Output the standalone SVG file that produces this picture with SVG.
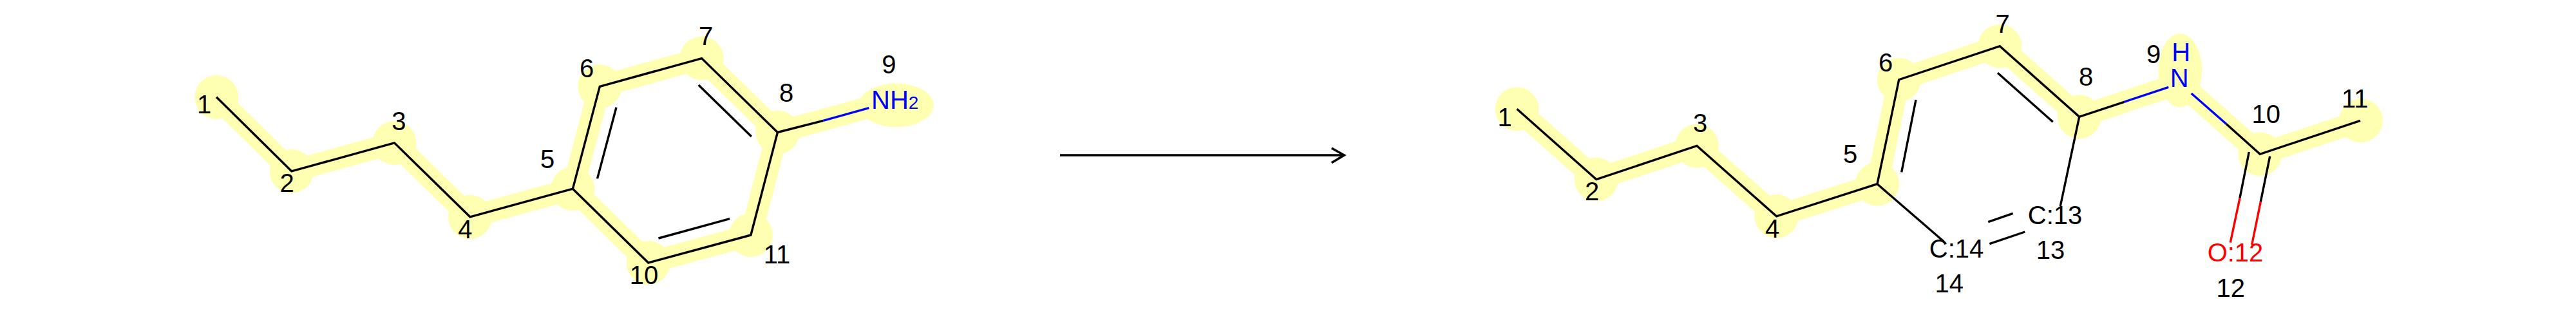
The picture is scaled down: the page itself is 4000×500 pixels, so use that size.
<svg xmlns="http://www.w3.org/2000/svg" width="4000" height="500" viewBox="0 0 4000 500">
<style>
text{font-family:"Liberation Sans",Arial,sans-serif;font-size:40px;fill:#000;text-anchor:middle}
.h{fill:#ffffb2;stroke:none}
.band{fill:none;stroke:#ffffb2;stroke-width:34;stroke-linejoin:round}
.b{fill:none;stroke:#000;stroke-width:3.4;stroke-linejoin:miter;stroke-miterlimit:10}
.n{fill:none;stroke:#0000ff;stroke-width:3.4}
.o{fill:none;stroke:#ff0000;stroke-width:3.4}
.blue{fill:#0000ff}
.red{fill:#ff0000}
</style>
<rect width="4000" height="500" fill="#fff"/>
<g id="highlight-bands">
<path class="band" d="M336.1 150.7L452.8 265.9L612.4 221.9L729.9 336.8L889.4 293.2L931.3 134.3L1089.6 90.6L1207.4 205.5L1165.9 365L1006.7 408L889.4 293.2"/>
<path class="band" d="M1207.4 205.5L1367 161.9"/>
<path class="band" d="M2355.5 169.2L2478.7 278.5L2634.9 226.5L2758.5 335.8L2915 285.7L2948.7 123.7L3105.3 71.7L3228.7 181.3L3385.3 129.3L3509.3 239.3L3666 187.3"/>
</g>
<g id="reactant-atoms">
<g id="r1"><circle class="h" cx="336.1" cy="150.7" r="34"/><text x="317" y="175.8">1</text></g>
<g id="r2"><circle class="h" cx="452.8" cy="265.9" r="34"/><text x="445.6" y="297.7">2</text></g>
<g id="r3"><circle class="h" cx="612.4" cy="221.9" r="34"/><text x="619.3" y="201.7">3</text></g>
<g id="r4"><circle class="h" cx="729.9" cy="336.8" r="34"/><text x="722.3" y="369.5">4</text></g>
<g id="r5"><circle class="h" cx="889.4" cy="293.2" r="34"/><text x="850" y="260.5">5</text></g>
<g id="r6"><circle class="h" cx="931.3" cy="134.3" r="34"/><text x="911" y="120">6</text></g>
<g id="r7"><circle class="h" cx="1089.6" cy="90.6" r="34"/><text x="1096" y="70.4">7</text></g>
<g id="r8"><circle class="h" cx="1207.4" cy="205.5" r="34"/><text x="1221" y="158">8</text></g>
<g id="r9"><ellipse class="h" cx="1391.7" cy="163.3" rx="58" ry="34"/><text x="1380.3" y="114.4">9</text><text class="blue" x="1353" y="169.3" style="text-anchor:start">NH<tspan font-size="28">2</tspan></text></g>
<g id="r10"><circle class="h" cx="1006.7" cy="408" r="34"/><text x="1000" y="440.6">10</text></g>
<g id="r11"><circle class="h" cx="1165.9" cy="365" r="34"/><text x="1206.5" y="409">11</text></g>
</g>
<g id="product-atoms">
<g id="p1"><circle class="h" cx="2355.5" cy="169.2" r="34"/><text x="2336.7" y="195.7">1</text></g>
<g id="p2"><circle class="h" cx="2478.7" cy="278.5" r="34"/><text x="2472.2" y="310.6">2</text></g>
<g id="p3"><circle class="h" cx="2634.9" cy="226.5" r="34"/><text x="2640.2" y="205">3</text></g>
<g id="p4"><circle class="h" cx="2758.5" cy="335.8" r="34"/><text x="2752" y="368.5">4</text></g>
<g id="p5"><circle class="h" cx="2915" cy="285.7" r="34"/><text x="2873" y="252.6">5</text></g>
<g id="p6"><circle class="h" cx="2948.7" cy="123.7" r="34"/><text x="2928" y="111">6</text></g>
<g id="p7"><circle class="h" cx="3105.3" cy="71.7" r="34"/><text x="3109.7" y="50.7">7</text></g>
<g id="p8"><circle class="h" cx="3228.7" cy="181.3" r="34"/><text x="3239" y="133.3">8</text></g>
<g id="p9"><ellipse class="h" cx="3385.3" cy="109.3" rx="34" ry="57"/><text x="3344" y="97.7">9</text><text class="blue" x="3386.7" y="95">H</text><text class="blue" x="3384.3" y="135">N</text></g>
<g id="p10"><circle class="h" cx="3509.3" cy="239.3" r="34"/><text x="3518.8" y="190.7">10</text></g>
<g id="p11"><circle class="h" cx="3666" cy="187.3" r="34"/><text x="3656.7" y="166.7">11</text></g>
<g id="p12"><text class="red" x="3471" y="406">O:12</text><text x="3463.7" y="460.7">12</text></g>
<g id="p13"><text x="3191" y="348.3">C:13</text><text x="3184" y="401.7">13</text></g>
<g id="p14"><text x="3038" y="400">C:14</text><text x="3026.7" y="454.3">14</text></g>
</g>
<g id="connectors">
<path class="b" d="M336.1 150.7L452.8 265.9L612.4 221.9L729.9 336.8L889.4 293.2L931.3 134.3L1089.6 90.6L1207.4 205.5L1165.9 365L1006.7 408L889.4 293.2"/>
<path class="b" d="M957 166.8L927.5 277.4M1084.7 132L1166.8 212M1022.5 370L1133.2 339.6M1207.4 205.5L1278.3 187.3"/>
<path class="n" d="M1278.3 187.3L1349.3 167.7"/>
<path class="b" d="M1646 241H2087M2067.7 230L2087.3 241L2067.7 252.7" style="stroke-width:3.5"/>
<path class="b" d="M2355.5 169.2L2478.7 278.5L2634.9 226.5L2758.5 335.8L2915 285.7L2948.7 123.7L3105.3 71.7L3228.7 181.3L3298.3 158.3"/>
<path class="n" d="M3298.3 158.3L3367.3 135.3M3402.7 145L3456.7 192.3"/>
<path class="b" d="M3456.7 192.3L3509.3 239.3L3665 187.3M3228.7 181.3L3199.3 320M2915 285.7L3018.3 375M2975 155L2952.7 267.3M3102 113.3L3187.7 189.3M3087.3 344.7L3125.7 331.3M3089.3 378.7L3144.3 360M3492.3 236L3478 307.3M3524.7 242.7L3510.3 313.3"/>
<path class="o" d="M3478 307.3L3463.3 376.7M3510.3 313.3L3496.7 380"/>
</g>
</svg>
